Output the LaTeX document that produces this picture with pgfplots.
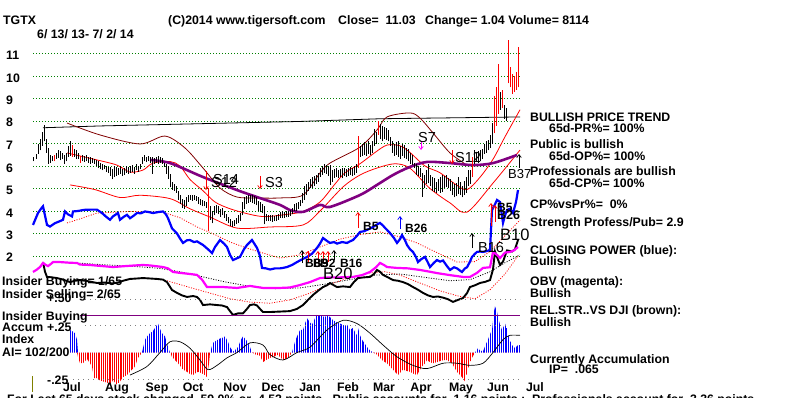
\documentclass[border=0pt]{standalone}
\usepackage{pgfplots}
\usepackage{pgfplotstable}
\pgfplotsset{compat=1.18}
\usepackage{fontspec}
\setmainfont{Liberation Sans}
\usetikzlibrary{patterns.meta,arrows.meta}
\definecolor{tgreen}{RGB}{0,128,0}
\definecolor{tpurple}{RGB}{128,0,128}
\definecolor{tmaroon}{RGB}{128,0,0}
\definecolor{tmag}{RGB}{255,0,255}
\definecolor{tblue}{RGB}{0,0,255}
\definecolor{tolive}{RGB}{128,128,0}
\newcommand\T{\fontsize{12.3}{14}\selectfont\bfseries}
\newcommand\Sg{\fontsize{14.5}{16}\selectfont}
\newcommand\Sb{\fontsize{12}{14}\selectfont\bfseries}
\tikzset{sig/.style={-{Straight Barb[length=3pt,width=4.5pt]}, line width=0.7pt}}
\pgfplotsset{base/.style={at={(0,0)}, anchor=south west, scale only axis, width=800pt, height=397pt, xmin=0, xmax=800, hide axis, clip=false}}

% price bars: x low high
\pgfplotstableread{
x lo hi
33 6.20 6.40
36 6.30 6.55
38 6.55 7.00
40 6.70 7.20
42 6.90 7.50
44 7.10 7.82
46 6.60 7.20
48 6.10 6.80
50 6.15 6.50
52 6.20 6.45
56 6.30 6.60
58 6.35 6.70
60 6.25 6.65
62 6.30 6.60
64 6.10 6.50
66 6.20 6.60
68 6.40 6.90
70 6.45 7.10
74 6.40 6.75
76 6.30 6.70
78 6.30 6.60
82 6.20 6.47
84 6.17 6.45
86 6.20 6.47
88 6.15 6.40
90 6.10 6.40
92 6.15 6.35
94 6.10 6.30
96 6.00 6.25
98 5.90 6.24
100 5.85 6.15
102 5.80 6.10
104 5.85 6.05
106 5.75 6.00
108 5.70 5.95
110 5.55 5.95
112 5.40 5.85
114 5.50 6.00
116 5.55 5.95
118 5.60 5.90
120 5.65 6.00
122 5.55 5.85
124 5.60 5.90
126 5.70 6.00
128 5.65 5.95
130 5.70 6.00
132 5.75 6.05
134 5.65 5.95
136 5.80 6.10
138 5.75 6.00
140 5.85 6.10
142 6.10 6.40
144 6.20 6.47
146 6.17 6.40
148 6.20 6.45
150 6.15 6.40
152 5.65 6.40
154 6.10 6.35
156 6.15 6.40
158 6.10 6.45
160 6.15 6.40
162 6.10 6.35
164 5.95 6.15
166 5.65 6.10
168 5.40 6.00
170 5.05 5.65
172 4.95 5.30
174 4.90 5.20
176 4.80 5.10
178 4.50 4.90
180 4.30 4.70
182 4.15 4.55
184 4.10 4.50
186 4.20 4.60
188 4.40 4.70
190 4.50 4.70
192 4.45 4.72
194 4.50 4.70
196 4.45 4.65
198 4.30 4.60
200 4.25 4.55
202 4.20 4.50
204 4.20 4.45
206 4.15 4.40
210 3.60 4.20
212 3.45 4.00
214 3.80 4.20
216 3.90 4.25
218 3.85 4.20
220 3.75 4.10
222 3.80 4.15
224 3.70 4.00
226 3.55 3.85
228 3.45 3.75
230 3.35 3.65
232 3.30 3.55
234 3.35 3.60
236 3.40 3.70
238 3.45 3.80
240 3.55 3.90
242 3.80 4.40
244 4.10 4.60
246 4.30 4.66
248 4.35 4.70
250 4.40 4.73
252 4.35 4.70
254 4.30 4.65
256 4.25 4.60
258 4.00 4.45
260 3.95 4.40
262 3.90 4.30
264 3.40 4.20
266 3.55 3.85
268 3.55 3.80
270 3.55 3.83
272 3.53 3.80
274 3.55 3.78
276 3.55 3.80
278 3.60 3.85
280 3.68 3.95
282 3.68 3.98
284 3.70 3.95
286 3.72 3.98
288 3.75 4.00
290 3.78 4.05
292 3.85 4.15
294 3.98 4.30
296 4.00 4.36
298 4.10 4.40
300 4.20 4.50
302 4.35 4.80
304 4.50 5.10
306 4.70 5.20
308 4.90 5.30
310 5.00 5.40
312 5.04 5.50
314 5.10 5.56
316 5.20 5.60
318 5.30 5.70
320 5.50 5.90
322 5.60 6.00
324 5.70 6.10
326 5.65 6.05
328 5.55 6.00
330 5.15 6.05
332 5.30 5.80
334 5.46 5.85
336 5.50 5.90
338 5.45 5.80
340 5.50 5.85
342 5.45 5.90
344 5.55 5.90
346 5.50 5.85
348 5.55 5.90
350 5.60 5.95
352 5.55 5.90
354 5.60 6.00
356 5.70 6.10
360 6.40 6.90
362 6.45 7.00
364 6.50 7.05
366 6.45 7.00
368 6.55 7.10
370 6.50 6.95
372 6.60 7.10
374 6.90 7.64
376 7.00 7.50
380 7.20 7.86
382 7.10 7.80
384 7.20 7.75
386 7.15 7.70
388 7.10 7.60
390 6.90 7.30
392 6.60 7.10
394 6.45 7.00
396 6.50 7.05
398 6.40 7.10
400 6.30 6.90
402 6.45 7.00
404 6.35 6.95
406 6.29 6.80
408 6.20 6.74
410 6.10 6.60
412 6.06 6.50
414 5.90 6.14
416 5.60 6.10
418 5.55 6.00
420 5.53 5.90
422 4.63 5.68
424 5.00 5.60
426 5.20 5.80
428 5.23 6.10
430 5.10 5.60
432 4.90 5.50
434 4.85 5.45
436 4.78 5.30
438 4.90 5.40
440 4.80 5.50
442 4.85 5.60
444 5.00 5.55
446 5.08 5.60
448 5.00 5.45
450 4.90 5.40
452 4.70 5.30
454 4.60 5.20
456 4.65 5.25
458 4.75 5.50
460 4.70 5.30
462 4.60 5.10
464 4.70 5.35
466 4.80 5.50
468 5.10 5.80
470 5.20 5.80
474 6.10 6.70
476 6.20 6.60
478 6.15 6.65
480 6.20 6.70
482 6.30 6.75
484 6.55 7.00
486 6.60 7.10
488 6.70 7.15
490 6.80 7.40
492 7.00 7.90
500 8.50 9.30
504 8.10 8.70
506 8.00 8.60
}\barsblack

\pgfplotstableread{
x lo hi
54 6.20 6.50
72 6.40 6.95
80 6.15 6.45
208 3.10 5.00
358 5.90 7.34
378 7.40 8.00
472 5.50 6.40
494 7.45 9.10
496 7.80 9.50
498 8.33 10.55
502 8.60 9.40
508 9.67 11.60
510 9.50 10.40
512 9.20 10.10
514 9.30 10.00
516 9.40 10.20
518 9.50 11.30
}\barsred

% Closing Power (blue), on the price scale
\pgfplotstableread{
x y
33 3.38
36 3.70
38 3.91
41 4.10
43 4.21
45 3.80
47 3.38
50 3.31
55 3.46
60 3.55
63 3.61
65 3.98
68 3.85
72 3.76
73 3.98
78 4.00
84 4.05
90 4.06
97 4.06
102 3.91
106 3.75
110 3.61
113 3.76
116 3.85
118 3.91
120 3.61
124 3.75
127 3.83
130 3.68
134 3.80
137 3.91
141 3.90
145 3.98
149 3.95
153 3.91
158 3.95
163 3.98
166 3.85
168 3.68
172 3.23
177 3.00
180 2.78
183 2.58
187 2.70
190 2.71
194 2.62
197 2.65
203 2.49
208 2.30
212 2.13
215 2.40
220 2.71
224 2.55
227 2.40
230 2.05
233 1.82
237 1.90
240 1.96
244 2.30
247 2.49
252 2.71
257 2.36
260 2.00
262 1.47
266 1.45
270 1.40
275 1.45
280 1.45
284 1.48
287 1.51
292 1.60
297 1.73
302 1.85
307 1.96
312 2.10
317 2.36
320 2.55
323 2.80
326 2.70
330 2.58
334 2.62
337 2.55
342 2.62
347 2.58
350 2.65
353 2.71
357 2.90
360 3.07
364 3.10
367 3.16
370 3.22
373 3.29
377 3.40
380 3.47
383 3.35
385 3.25
390 3.02
394 2.80
397 2.58
400 2.75
402 2.93
405 2.70
407 2.49
410 2.30
413 2.18
416 1.95
418 1.73
421 1.85
425 1.96
428 1.70
430 1.51
434 1.70
437 1.82
440 1.75
443 1.80
447 1.55
450 1.38
454 1.50
457 1.45
460 1.35
462 1.29
465 1.45
467 1.50
470 1.75
472 1.96
475 2.10
477 2.18
480 2.20
483 2.18
487 2.22
490 2.27
492 4.04
495 4.30
497 4.49
500 4.40
503 3.47
505 3.80
507 4.04
510 4.10
513 3.91
516 4.40
518 4.93
}\cpdata

% OBV (magenta)
\pgfplotstableread{
x y
33 1.29
37 1.40
40 1.51
43 1.69
46 1.60
48 1.55
51 1.65
53 1.73
60 1.73
70 1.70
77 1.69
80 1.62
90 1.60
100 1.56
113 1.51
125 1.55
135 1.58
143 1.60
150 1.58
163 1.51
168 1.45
173 1.29
180 1.25
190 1.20
197 1.16
202 0.95
207 0.62
215 0.62
223 0.62
230 0.60
237 0.58
243 0.62
250 0.67
257 0.62
263 0.58
270 0.58
280 0.58
290 0.60
300 0.71
310 0.84
320 1.02
330 1.05
340 1.05
353 1.07
362 1.15
370 1.29
376 1.50
380 1.69
384 1.60
387 1.51
397 1.47
408 1.45
420 1.38
430 1.30
437 1.24
450 1.15
463 1.07
470 1.07
477 1.25
483 1.47
490 1.50
493 2.18
497 2.05
500 1.91
505 2.15
510 2.18
514 2.25
518 2.40
}\obvdata

% relative strength (black)
\pgfplotstableread{
x y
43 1.73
45 1.30
47 1.07
52 1.05
57 1.02
63 0.95
70 0.84
75 0.90
80 0.93
88 0.88
97 0.80
105 0.82
113 0.78
118 0.82
123 0.90
130 0.98
137 1.00
143 1.02
150 1.00
157 0.98
163 0.95
167 0.84
172 0.49
177 0.36
182 0.25
187 0.18
193 0.22
197 0.18
200 0.05
203 -0.18
210 -0.15
217 -0.18
222 -0.20
227 -0.27
230 -0.45
233 -0.62
238 -0.55
243 -0.55
247 -0.35
250 -0.18
254 -0.15
257 -0.20
260 -0.35
263 -0.49
270 -0.49
280 -0.47
290 -0.45
297 -0.35
303 -0.18
308 0.05
313 0.27
318 0.45
323 0.62
327 0.70
330 0.80
333 0.72
337 0.62
343 0.65
350 0.62
354 0.85
358 1.02
364 1.05
370 1.07
374 1.20
377 1.38
380 1.30
383 1.16
388 1.05
393 0.93
398 0.90
403 0.84
408 0.75
413 0.62
418 0.50
423 0.36
428 0.25
433 0.18
438 0.20
443 0.15
448 0.08
453 -0.04
458 0.05
463 0.13
467 0.35
470 0.62
475 0.70
480 0.80
485 0.85
490 0.93
493 1.40
495 2.20
500 1.60
503 1.75
507 2.25
512 2.20
515 2.30
518 2.71
}\rsdata

% accumulation index
\pgfplotstableread{
x ai
70 0.21
72 0.20
75 0.18
77 0.12
78 -0.04
80 -0.10
83 -0.10
85 -0.08
87 -0.06
90 -0.10
92 -0.13
94 -0.24
97 -0.24
100 -0.26
103 -0.27
107 -0.28
110 -0.30
113 -0.26
117 -0.30
120 -0.27
123 -0.23
127 -0.21
130 -0.18
133 -0.15
135 -0.13
138 -0.05
142 0.00
145 0.12
148 0.16
150 0.18
153 0.20
155 0.23
158 0.27
160 0.22
162 0.18
165 0.15
168 0.05
170 0.00
172 -0.04
175 -0.07
177 -0.09
180 -0.12
182 -0.15
185 -0.17
187 -0.18
190 -0.20
193 -0.21
196 -0.19
198 -0.18
201 -0.19
203 -0.20
205 -0.21
207 -0.23
209 -0.10
210 0.00
213 0.09
216 0.11
220 0.13
223 0.14
225 0.15
228 0.10
230 0.05
233 0.01
236 0.03
238 0.05
241 0.12
243 0.15
246 0.12
248 0.09
250 0.05
252 0.00
256 -0.02
260 -0.03
263 -0.09
266 -0.07
270 -0.05
274 -0.04
277 -0.02
280 -0.04
283 -0.07
286 -0.06
288 -0.05
292 0.00
295 0.10
297 0.15
300 0.21
303 0.21
305 0.27
307 0.32
310 0.28
312 0.26
315 0.32
317 0.35
320 0.34
322 0.34
325 0.33
327 0.35
330 0.33
332 0.31
335 0.29
337 0.28
340 0.27
342 0.26
345 0.25
347 0.26
350 0.21
353 0.23
355 0.19
357 0.16
358 0.23
360 0.16
362 0.12
365 0.08
367 0.05
370 0.02
373 0.00
377 -0.02
380 -0.05
382 -0.07
385 -0.09
387 -0.10
390 -0.13
393 -0.16
396 -0.19
398 -0.21
400 -0.19
403 -0.16
406 -0.17
410 -0.18
414 -0.20
417 -0.21
420 -0.16
422 -0.13
425 -0.10
427 -0.07
430 -0.09
433 -0.10
437 -0.09
440 -0.08
444 -0.07
447 -0.07
450 -0.09
452 -0.10
455 -0.15
457 -0.18
460 -0.21
462 -0.23
465 -0.27
468 -0.16
470 -0.10
472 -0.05
475 0.00
478 0.04
480 0.02
483 0.01
486 0.08
488 0.12
490 0.17
492 0.21
494 0.38
495 0.43
497 0.38
498 0.33
500 0.26
502 0.21
504 0.25
505 0.27
507 0.22
508 0.18
510 0.12
512 0.07
514 0.05
515 0.04
517 0.06
518 0.07
520 0.07
}\aidata

\begin{document}
\begin{tikzpicture}
%================ PRICE SCALE =================
\begin{axis}[base, ymin=-4.267, ymax=13.378]
% grid lines
\foreach \g in {2,...,11}{
  \edef\tmp{\noexpand\addplot[tgreen, line width=0.8pt, dash pattern=on 1pt off 2pt] coordinates {(33,\g) (520,\g)};}
  \tmp
}
% long-term black line
\addplot[black, line width=0.8pt] coordinates {(43,7.70) (100,7.78) (200,7.88) (300,7.98) (380,8.10) (520,8.18)};
% maroon envelope
\addplot[tmaroon, line width=0.8pt, smooth] coordinates {(67,7.91) (100,7.38) (140,6.98) (165,7.33) (185,6.80) (203,5.91) (220,5.02) (237,4.62) (257,4.58) (280,4.58) (303,4.71) (320,5.69) (330,6.13) (360,6.84) (377,7.60) (387,8.18) (410,8.36) (420,8.13) (433,7.47) (450,6.58) (467,6.04)};
% red bands
\addplot[red, line width=0.8pt, smooth] coordinates {(67,6.58) (97,6.27) (117,6.04) (130,5.73) (143,5.82) (153,6.13) (170,6.20) (180,6.00) (190,5.40) (203,4.90) (215,4.40) (230,4.10) (250,3.85) (265,3.75) (287,3.85) (303,3.98) (320,4.40) (335,5.20) (345,5.70) (360,6.10) (375,6.60) (387,6.93) (400,6.90) (410,6.60) (425,6.00) (440,5.70) (455,5.20) (467,4.95) (480,5.50) (493,6.30) (505,7.30) (520,8.50)};
\addplot[red, line width=0.8pt, smooth] coordinates {(70,5.16) (95,4.95) (120,4.60) (140,4.70) (170,4.55) (190,4.10) (210,3.73) (237,3.24) (270,3.29) (303,3.38) (320,4.00) (343,5.07) (360,5.60) (377,5.91) (395,6.10) (410,5.90) (430,5.00) (450,4.36) (467,3.95) (493,5.24) (520,6.71)};
% purple long MA
\addplot[tpurple, line width=2.6pt, smooth] coordinates {(150,6.27) (170,6.13) (203,5.51) (237,4.93) (257,4.62) (280,4.27) (290,4.04) (303,3.96) (320,4.27) (330,4.18) (360,4.71) (377,5.16) (393,5.60) (410,5.96) (427,6.18) (450,6.13) (473,6.04) (493,6.13) (517,6.49)};
% price bars (low to high)
\addplot[black, line width=0.9pt, quiver={u=0, v=\thisrow{hi}-\thisrow{lo}}] table[x=x, y=lo] {\barsblack};
\addplot[red, line width=0.9pt, quiver={u=0, v=\thisrow{hi}-\thisrow{lo}}] table[x=x, y=lo] {\barsred};
% dotted MAs of the indicators
\addplot[red, line width=0.8pt, dash pattern=on 1pt off 1.5pt] coordinates {(67,3.47) (80,3.65) (97,3.91) (130,3.98) (163,3.95) (180,3.70) (197,3.29) (215,2.95) (230,2.62) (247,2.35) (263,2.13) (280,1.91) (300,2.05) (320,2.40) (340,2.75) (360,2.95) (380,3.07) (400,2.85) (417,2.58) (437,2.15) (457,1.73) (475,1.75) (490,2.20) (505,2.90) (520,3.60)};
\addplot[red, line width=0.8pt, dash pattern=on 1pt off 1.5pt] coordinates {(167,0.90) (190,0.60) (210,0.35) (230,0.10) (250,-0.05) (270,-0.10) (290,0.05) (310,0.35) (330,0.75) (350,1.05) (370,1.25) (385,1.30) (400,1.15) (420,0.80) (440,0.45) (460,0.20) (475,0.10) (490,0.50) (505,1.20) (518,2.00)};
\addplot[black, line width=0.8pt, dash pattern=on 1pt off 1.5pt] coordinates {(77,1.69) (100,1.62) (130,1.55) (160,1.45) (180,1.30) (200,1.10) (225,0.85) (250,0.65) (275,0.55) (300,0.58) (325,0.75) (350,0.95) (375,1.15) (400,1.20) (425,1.05) (450,0.90) (470,0.95) (490,1.30) (505,1.70) (520,2.05)};
% indicator lines
\addplot[black, line width=1.9pt] table[x=x,y=y] {\rsdata};
\addplot[tmag, line width=2.2pt] table[x=x,y=y] {\obvdata};
\addplot[tblue, line width=2.2pt] table[x=x,y=y] {\cpdata};
\end{axis}

%================ ACCUMULATION INDEX =================
\begin{axis}[base, ymin=-0.415, ymax=3.288]
\addplot[draw=none, pattern={Lines[angle=90,distance=2.2pt,line width=1.1pt]}, pattern color=tblue]
  table[x=x, y expr={max(\thisrow{ai},0)}] {\aidata} \closedcycle;
\addplot[draw=none, pattern={Lines[angle=90,distance=2.2pt,line width=1.1pt]}, pattern color=red]
  table[x=x, y expr={min(\thisrow{ai},0)}] {\aidata} \closedcycle;
\addplot[black, line width=0.7pt, smooth] coordinates {(130,-0.21) (147,-0.13) (160,0.00) (170,0.10) (180,0.10) (190,0.04) (200,-0.07) (208,-0.16) (217,-0.12) (227,-0.05) (237,0.00) (250,0.09) (263,0.07) (270,-0.02) (283,-0.07) (297,0.00) (310,0.05) (327,0.21) (343,0.30) (357,0.27) (370,0.18) (383,0.07) (397,-0.04) (413,-0.12) (427,-0.15) (443,-0.10) (457,-0.10) (470,-0.12) (483,-0.10) (493,0.00) (503,0.12) (510,0.16) (520,0.16)};
\addplot[tpurple, line width=1pt] coordinates {(80,0.343) (520,0.343)};
\addplot[gray, line width=0.8pt, dash pattern=on 1pt off 4pt] coordinates {(85,0.25) (520,0.25)};
\addplot[gray, line width=0.8pt, dash pattern=on 1pt off 4pt] coordinates {(80,0.50) (520,0.50)};
\addplot[gray, line width=0.8pt, dash pattern=on 1pt off 4pt] coordinates {(73,-0.25) (520,-0.25)};
\end{axis}

%================ TEXT (pixel positions) =================
\begin{axis}[base, ymin=0, ymax=397, y dir=reverse]
% header
\node[anchor=base west, inner sep=0] at (3,24.5) {\T TGTX};
\node[anchor=base west, inner sep=0] at (168,24.5) {\T (C)2014 www.tigersoft.com};
\node[anchor=base west, inner sep=0] at (338,24.5) {\T Close=\ \ 11.03};
\node[anchor=base west, inner sep=0] at (425,24.5) {\T Change= 1.04 Volume= 8114};
\node[anchor=base west, inner sep=0] at (37,38) {\T 6/ 13/ 13- 7/ 2/ 14};
% price labels
\foreach \lab/\yy in {11/59.5,10/82,9/104,8/126.5,7/149.5,6/172,5/194,4/217,3/239,2/261}{
  \edef\tmp{\noexpand\node[anchor=base west, inner sep=0] at (6,\yy) {\noexpand\T \lab};}
  \tmp
}
% right panel
\node[anchor=base west, inner sep=0] at (530,121) {\T BULLISH PRICE TREND};
\node[anchor=base west, inner sep=0] at (549,132) {\T 65d-PR\%= 100\%};
\node[anchor=base west, inner sep=0] at (530,148.5) {\T Public is bullish};
\node[anchor=base west, inner sep=0] at (549,160) {\T 65d-OP\%= 100\%};
\node[anchor=base west, inner sep=0] at (530,175) {\T Professionals are bullish};
\node[anchor=base west, inner sep=0] at (549,187) {\T 65d-CP\%= 100\%};
\node[anchor=base west, inner sep=0] at (530,208) {\T CP\%vsPr\%=\ \ 0\%};
\node[anchor=base west, inner sep=0] at (530,226) {\T Strength Profess/Pub= 2.9};
\node[anchor=base west, inner sep=0] at (530,254.5) {\T CLOSING POWER (blue):};
\node[anchor=base west, inner sep=0] at (530,265) {\T Bullish};
\node[anchor=base west, inner sep=0] at (530,285) {\T OBV (magenta):};
\node[anchor=base west, inner sep=0] at (530,297) {\T Bullish};
\node[anchor=base west, inner sep=0] at (530,314) {\T REL.STR..VS DJI (brown):};
\node[anchor=base west, inner sep=0] at (530,326) {\T Bullish};
\node[anchor=base west, inner sep=0] at (530,363) {\T Currently Accumulation};
\node[anchor=base west, inner sep=0] at (549,373) {\T IP=\ \ .065};
% left lower panel
\node[anchor=base west, inner sep=0] at (2,285.5) {\T Insider Buying= 1/65};
\node[anchor=base west, inner sep=0] at (2,298.5) {\T Insider Selling= 2/65};
\node[anchor=base west, inner sep=0] at (47,302.5) {\T +.50};
\node[anchor=base west, inner sep=0] at (2,320.5) {\T Insider Buying};
\node[anchor=base west, inner sep=0] at (2,331.5) {\T Accum};
\node[anchor=base west, inner sep=0] at (47,331.5) {\T +.25};
\node[anchor=base west, inner sep=0] at (2,343.5) {\T Index};
\node[anchor=base west, inner sep=0] at (2,356) {\T AI= 102/200};
\node[anchor=base west, inner sep=0] at (47,384.5) {\T -.25};
\draw[tolive, line width=1pt] (32,376) -- (32,392);
% months
\foreach \m/\xx in {Jul/72,Aug/117,Sep/157,Oct/193,Nov/235,Dec/273,Jan/310,Feb/348,Mar/384,Apr/421,May/461,Jun/498,Jul/535}{
  \edef\tmp{\noexpand\node[anchor=base, inner sep=0] at (\xx,391.5) {\noexpand\T \m};}
  \tmp
}
\node[anchor=base west, inner sep=0] at (7,403) {\T For Last 65 days stock changed\ \ 59.0\% or\ \ 4.52 points.\ \ Public accounts for\ \ 1.16 points ;\ \ Professionals account for\ \ 3.36 points};
% signals
\draw[sig, red] (206,171) -- (206,190);
\node[anchor=base west, inner sep=0] at (211,187.5) {\Sg S12};
\node[anchor=base west, inner sep=0] at (213,184.5) {\Sg S14};
\draw[sig, red] (260,176) -- (260,189);
\node[anchor=base west, inner sep=0] at (265,187.5) {\Sg S3};
\node[anchor=base west, inner sep=0] at (418,142.5) {\Sg S7};
\draw[sig, tmag] (421,142) -- (421,150);
\draw[sig, red] (452,150) -- (452,164);
\node[anchor=base west, inner sep=0] at (455,162.5) {\Sg S12};
\draw[sig, black] (519,168) -- (519,154);
\node[anchor=base west, inner sep=0] at (508,178.5) {\fontsize{13}{15}\selectfont B37};
\draw[sig, red] (358,228) -- (358,212);
\node[anchor=base west, inner sep=0] at (363,230.5) {\Sb B5};
\draw[sig, tblue] (400,229) -- (400,216);
\node[anchor=base west, inner sep=0] at (405,232.5) {\Sb B26};
\draw[sig, black] (472,248) -- (472,233);
\node[anchor=base west, inner sep=0] at (478,252.5) {\Sg B16};
\draw[sig, red] (491,226) -- (491,203);
\draw[sig, red] (495,222) -- (495,205);
\node[anchor=base west, inner sep=0] at (497,211) {\Sb B5};
\node[anchor=base west, inner sep=0] at (497,219) {\fontsize{12.5}{14}\selectfont\bfseries B26};
\node[anchor=base west, inner sep=0] at (500,240.5) {\fontsize{16.5}{18}\selectfont B10};
% left signal cluster
\draw[sig, black] (302,263) -- (302,250);
\draw[sig, red] (308,263) -- (308,251);
\draw[sig, red] (318,264) -- (318,251);
\draw[sig, red] (323,262) -- (323,251);
\draw[sig, red] (328,262) -- (328,251);
\draw[sig, black] (334,260) -- (334,250);
\node[anchor=base west, inner sep=0] at (305,267.5) {\Sb B8};
\node[anchor=base west, inner sep=0] at (313,267.5) {\Sb B9};
\node[anchor=base west, inner sep=0] at (320,267.5) {\Sb B2};
\node[anchor=base west, inner sep=0] at (340,267.5) {\Sb B16};
\node[anchor=base west, inner sep=0] at (323,279.5) {\fontsize{16.5}{18}\selectfont B20};
\end{axis}
\pgfresetboundingbox
\useasboundingbox (0,0) rectangle (800pt,397pt);
\end{tikzpicture}
\end{document}
